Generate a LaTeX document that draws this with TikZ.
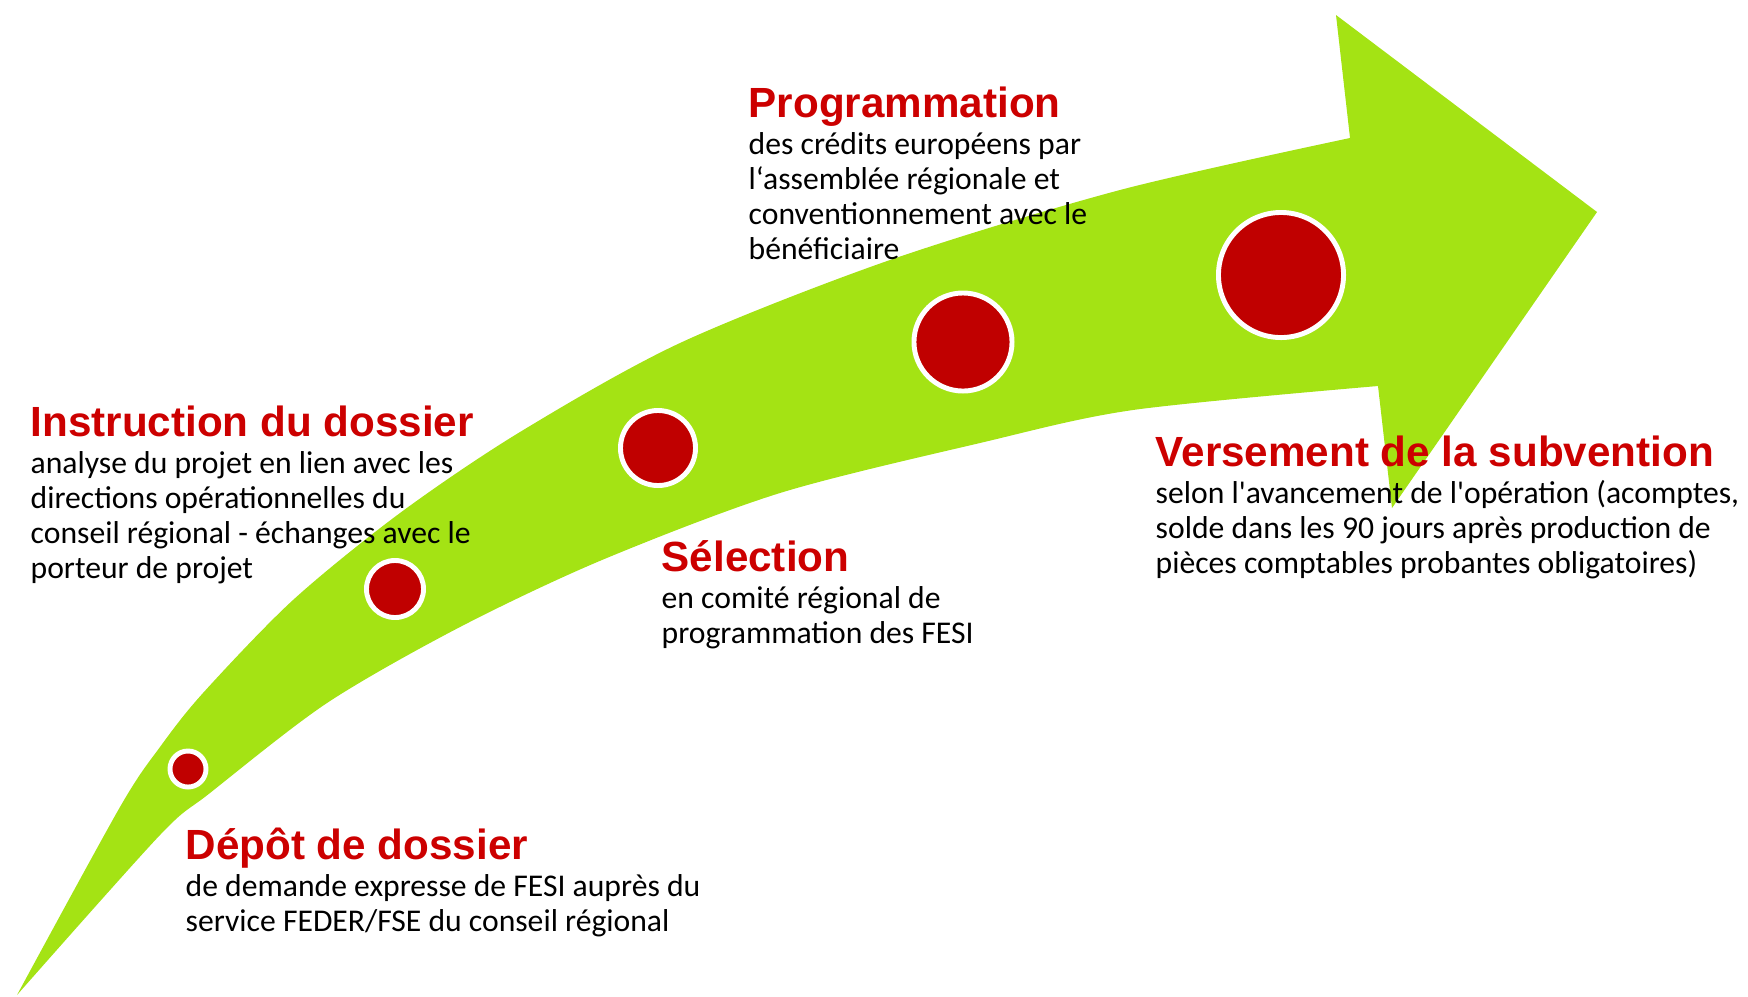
\documentclass[tikz,border=0pt]{standalone}
\usepackage{xcolor}
\usepackage{fontspec}
\usepackage{tikz}
\usetikzlibrary{
    positioning
}
\setmainfont{Carlito}
\newfontfamily\headfont{Liberation Sans}

\definecolor{arrowgreen}{HTML}{A4E314}
\definecolor{dotred}{HTML}{C00000}
\definecolor{titlered}{HTML}{CC0000}

\begin{document}
\begin{tikzpicture}[
x=0.01cm, y=-0.01cm,
steptitle/.style={
anchor=base west,
inner sep=0pt,
text=titlered,
font=\headfont\bfseries\fontsize{12}{14}\selectfont
},
stepbody/.style={
inner sep=0pt,
align=left,
font=\fontsize{9}{9.96}\selectfont
},
stepdot/.style={
circle,
fill=dotred,
draw=white,
line width=1.4pt,
inner sep=0pt
}
]

\useasboundingbox (0,0) rectangle (1748,996);

\fill[arrowgreen]
plot[smooth] coordinates {(17,995) (120,807) (160,747) (203,693) (293,600)
  (400,513) (520,432) (680,343) (890,260) (1120,190) (1350,138)}
-- (1336,15) -- (1597,212) -- (1392,508)
-- plot[smooth] coordinates {(1378,386) (1133,410) (980,443) (780,493)
  (602,560) (460,627) (327,703) (210,793) (160,835) (17,995)}
-- cycle;

\node[stepdot, minimum size=0.36cm] (dot1) at (188,769) {};
\node[stepdot, minimum size=0.57cm] (dot2) at (395,589) {};
\node[stepdot, minimum size=0.75cm] (dot3) at (658,448) {};
\node[stepdot, minimum size=0.98cm] (dot4) at (963,342) {};
\node[stepdot, minimum size=1.25cm] (dot5) at (1281,275) {};

% the body's base anchor sits on its last line
\node[steptitle] (depot) at (185,859)
{Dépôt de dossier};
\node[stepbody, below=7.2mm of depot.base west, anchor=base west] (depotText)
{de demande expresse de FESI auprès du\\
service FEDER/FSE du conseil régional};

\node[steptitle] (instr) at (30,436)
{Instruction du dossier};
\node[stepbody, below=14.2mm of instr.base west, anchor=base west] (instrText)
{analyse du projet en lien avec les\\
directions opérationnelles du\\
conseil régional - échanges avec le\\
porteur de projet};

\node[steptitle] (select) at (661,571)
{Sélection};
\node[stepbody, below=7.2mm of select.base west, anchor=base west] (selectText)
{en comité régional de\\
programmation des FESI};

\node[steptitle] (prog) at (748,117)
{Programmation};
\node[stepbody, below=14.2mm of prog.base west, anchor=base west] (progText)
{des crédits européens par\\
l‘assemblée régionale et\\
conventionnement avec le\\
bénéficiaire};

\node[steptitle] (verse) at (1155,466)
{Versement de la subvention};
\node[stepbody, below=10.7mm of verse.base west, anchor=base west] (verseText)
{selon l\textquotesingle avancement de l\textquotesingle opération (acomptes,\\
solde dans les 90 jours après production de\\
pièces comptables probantes obligatoires)};

\end{tikzpicture}
\end{document}
